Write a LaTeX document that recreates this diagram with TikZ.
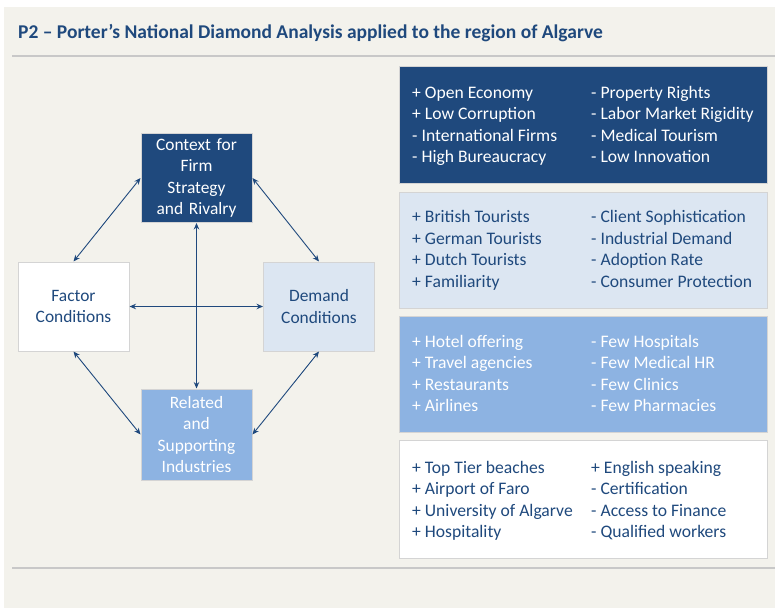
\documentclass[tikz,border=0pt]{standalone}
\usepackage{fontspec}
\setmainfont{Carlito}
\usepackage{xcolor}
\usetikzlibrary{positioning}
\usetikzlibrary{arrows, shapes, arrows.meta}
\definecolor{navy}{RGB}{31,73,125}
\definecolor{paleblue}{RGB}{220,230,242}
\definecolor{midblue}{RGB}{141,179,226}
\definecolor{paper}{RGB}{243,242,236}
\definecolor{rulegray}{RGB}{200,200,200}
\definecolor{edgegray}{RGB}{212,212,212}
\tikzstyle{force} = [draw=edgegray, line width=1pt, minimum width=111pt, minimum height=89pt, text width=108pt, align=center, font=\fontsize{17.4}{21.3}\selectfont, inner sep=0pt]
\tikzstyle{panel} = [draw=edgegray, line width=1pt, minimum width=368pt, minimum height=117pt, inner sep=0pt]
\tikzstyle{item} = [anchor=west, inner sep=0pt, text height=12pt, text depth=4pt, yshift=-1.5pt, font=\fontsize{17.6}{20}\selectfont]
\tikzstyle{link} = [navy, line width=0.9pt, {Stealth[length=6.5pt,width=5.5pt]}-{Stealth[length=6.5pt,width=5.5pt]}]

\begin{document}
\begin{tikzpicture}[x=1pt,y=-1pt]
\useasboundingbox (0,0) rectangle (775,608);
\fill[paper] (4,7) rectangle (775,608);
\node[anchor=west, inner sep=0pt, navy, font=\fontsize{19.5}{22}\selectfont\bfseries] (title) at (18,33) {P2 -- Porter’s National Diamond Analysis applied to the region of Algarve};
\draw[rulegray, line width=1.5pt] (12,56) -- (775,56);
\draw[rulegray, line width=1.5pt] (12,568) -- (775,568);
% the diamond
\node[force, fill=navy, text=white] (ctx) at (196.5,178) {Context for\\Firm\\Strategy\\and Rivalry};
\node[force, fill=white, text=navy] (fac) at (73.5,306.5) {Factor\\Conditions};
\node[force, fill=paleblue, text=navy] (dem) at (319,306.5) {Demand\\Conditions};
\node[force, fill=midblue, text=white, minimum height=91pt] (rel) at (196.5,434.5) {Related\\and\\Supporting\\Industries};
\draw[link] (ctx.west) -- (fac.north);
\draw[link] (ctx.east) -- (dem.north);
\draw[link] (fac.south) -- (rel.west);
\draw[link] (dem.south) -- (rel.east);
\draw[link] (fac.east) -- (dem.west);
\draw[link] (ctx.south) -- (rel.north);
% the four panels
\node[panel, fill=navy] (p1) at (583,124.5) {};
\node[panel, fill=paleblue, minimum height=116pt] (p2) at (583,250) {};
\node[panel, fill=midblue, minimum height=116pt] (p3) at (583,374) {};
\node[panel, fill=white, minimum height=118pt] (p4) at (583,499) {};
\foreach \l/\r [count=\i] in {{+ Open Economy}/{- Property Rights},{+ Low Corruption}/{- Labor Market Rigidity},{- International Firms}/{- Medical Tourism},{- High Bureaucracy}/{- Low Innovation}}{
  \node[item, white] (p1l\i) at (412,{93+21.3*(\i-1)}) {\l};
  \node[item, white] (p1r\i) at (591,{93+21.3*(\i-1)}) {\r};
}
\foreach \l/\r [count=\i] in {{+ British Tourists}/{- Client Sophistication},{+ German Tourists}/{- Industrial Demand},{+ Dutch Tourists}/{- Adoption Rate},{+ Familiarity}/{- Consumer Protection}}{
  \node[item, navy] (p2l\i) at (412,{217+21.5*(\i-1)}) {\l};
  \node[item, navy] (p2r\i) at (591,{217+21.5*(\i-1)}) {\r};
}
\foreach \l/\r [count=\i] in {{+ Hotel offering}/{- Few Hospitals},{+ Travel agencies}/{- Few Medical HR},{+ Restaurants}/{- Few Clinics},{+ Airlines}/{- Few Pharmacies}}{
  \node[item, white] (p3l\i) at (412,{342+21.3*(\i-1)}) {\l};
  \node[item, white] (p3r\i) at (591,{342+21.3*(\i-1)}) {\r};
}
\foreach \l/\r [count=\i] in {{+ Top Tier beaches}/{+ English speaking},{+ Airport of Faro}/{- Certification},{+ University of Algarve}/{- Access to Finance},{+ Hospitality}/{- Qualified workers}}{
  \node[item, navy] (p4l\i) at (412,{468+21.3*(\i-1)}) {\l};
  \node[item, navy] (p4r\i) at (591,{468+21.3*(\i-1)}) {\r};
}
\end{tikzpicture}
\end{document}
